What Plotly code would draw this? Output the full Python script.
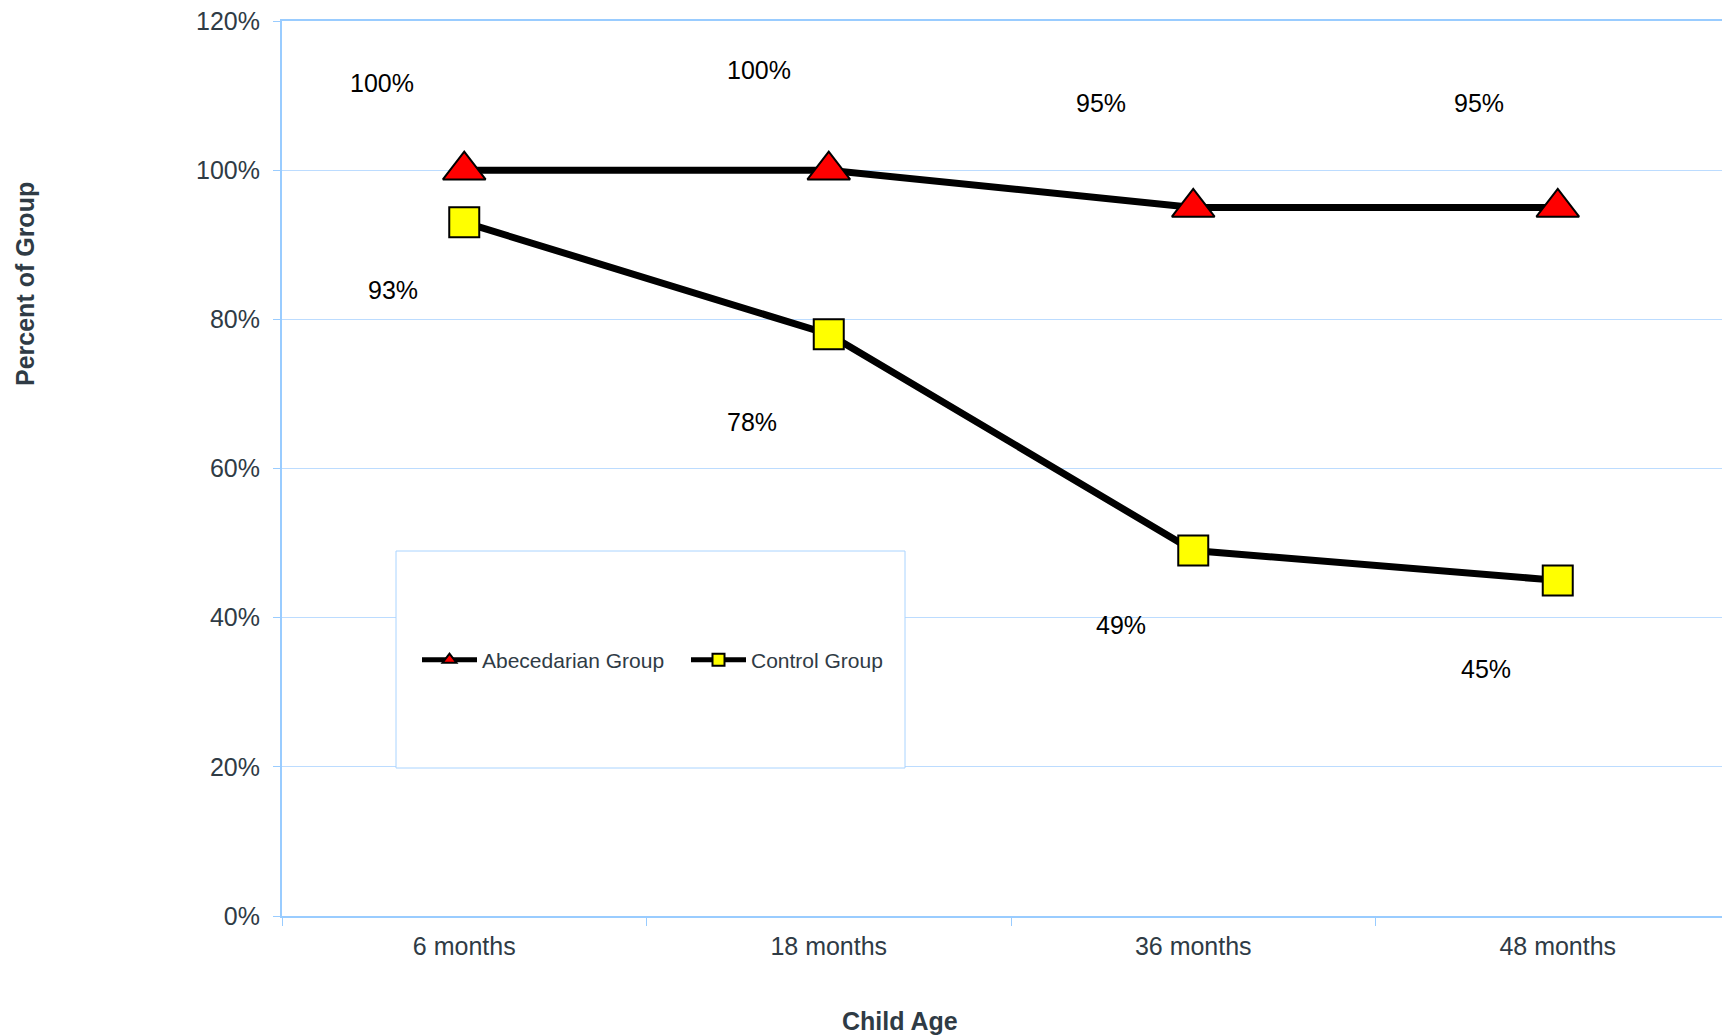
import plotly.graph_objects as go

# ---- data ----
categories = ["6 months", "18 months", "36 months", "48 months"]
abecedarian = [1.00, 1.00, 0.95, 0.95]
control = [0.93, 0.78, 0.49, 0.45]
y_ticks = [0, 0.2, 0.4, 0.6, 0.8, 1.0, 1.2]

# label pixel offsets (style only)
abc_dx = [-82, -70, -92, -79]
abc_dy = [87, 100, 104, 104]
ctl_dx = [-71, -77, -72, -72]
ctl_dy = [-68, -88, -74, -89]

W, H = 1722, 1036
ML, MT, MB = 282, 21, 120
TXT = "#2f3b45"
GRID = "#bcdcff"
AXIS = "#99ccff"
FONT = "Liberation Sans, Arial, sans-serif"

fig = go.Figure()
fig.add_trace(go.Scatter(
    x=categories, y=abecedarian, mode="lines+markers", name="Abecedarian Group",
    line=dict(color="black", width=7),
    marker=dict(symbol="triangle-up", size=37, color="#ff0000",
                line=dict(color="black", width=2)),
    cliponaxis=False,
))
fig.add_trace(go.Scatter(
    x=categories, y=control, mode="lines+markers", name="Control Group",
    line=dict(color="black", width=7),
    marker=dict(symbol="square", size=30, color="#ffff00",
                line=dict(color="black", width=2)),
    cliponaxis=False,
))

annotations = []
for c, v, dx, dy in zip(categories, abecedarian, abc_dx, abc_dy):
    annotations.append(dict(x=c, y=v, xref="x", yref="y", text=f"{v:.0%}",
                            showarrow=False, xshift=dx, yshift=dy,
                            font=dict(size=25, color="black", family=FONT)))
for c, v, dx, dy in zip(categories, control, ctl_dx, ctl_dy):
    annotations.append(dict(x=c, y=v, xref="x", yref="y", text=f"{v:.0%}",
                            showarrow=False, xshift=dx, yshift=dy,
                            font=dict(size=25, color="black", family=FONT)))

plot_w = W - ML
plot_h = H - MT - MB
cat_w = 364.5
x_end = -0.5 + plot_w / cat_w

# axis titles
annotations.append(dict(text="<b>Child Age</b>", xref="paper", yref="paper",
                        x=(900 - ML) / plot_w, y=(H - MB - 1021) / plot_h,
                        xanchor="center", yanchor="middle", showarrow=False,
                        font=dict(size=25, color=TXT, family=FONT)))
annotations.append(dict(text="<b>Percent of Group</b>", xref="paper", yref="paper",
                        x=(25 - ML) / plot_w, y=(H - MB - 284) / plot_h,
                        xanchor="center", yanchor="middle", showarrow=False,
                        textangle=-90,
                        font=dict(size=25, color=TXT, family=FONT)))

# legend box
shapes = [dict(type="rect", xref="paper", yref="paper", layer="above",
               x0=(396 - ML) / plot_w, x1=(905 - ML) / plot_w,
               y0=(H - MB - 768) / plot_h, y1=(H - MB - 551) / plot_h,
               fillcolor="white", line=dict(color="#aad4ff", width=1))]

fig.update_layout(
    width=W, height=H,
    margin=dict(l=ML, r=0, t=MT, b=MB, pad=0),
    paper_bgcolor="white", plot_bgcolor="white",
    font=dict(family=FONT, color=TXT, size=25),
    showlegend=True,
    legend=dict(orientation="h", x=(417 - ML) / plot_w, xanchor="left",
                y=(H - MB - 660) / plot_h, yanchor="middle",
                bgcolor="rgba(0,0,0,0)", borderwidth=0,
                font=dict(size=21, color=TXT, family=FONT),
                itemsizing="constant", itemwidth=55,
                entrywidth=199),
    annotations=annotations,
    shapes=shapes,
)
fig.update_xaxes(type="category", categoryorder="array", categoryarray=categories,
                 range=[-0.5, x_end], showgrid=False, zeroline=False,
                 showline=True, linecolor=AXIS, linewidth=2, mirror=True,
                 ticks="outside", tickson="boundaries", ticklen=8,
                 tickcolor=AXIS, tickwidth=1, ticklabelstandoff=7,
                 tickfont=dict(size=25, color=TXT, family=FONT))
fig.update_yaxes(range=[0, 1.2], tickvals=y_ticks, tickformat=".0%",
                 showgrid=True, gridcolor=GRID, gridwidth=1, zeroline=False,
                 showline=True, linecolor=AXIS, linewidth=2,
                 ticks="outside", ticklen=7, tickcolor=AXIS, tickwidth=1,
                 ticklabelstandoff=8,
                 tickfont=dict(size=25, color=TXT, family=FONT))

fig.write_html("out.html", config={"displayModeBar": False},
               post_script="document.body.style.margin='0';document.body.style.overflow='hidden';")
